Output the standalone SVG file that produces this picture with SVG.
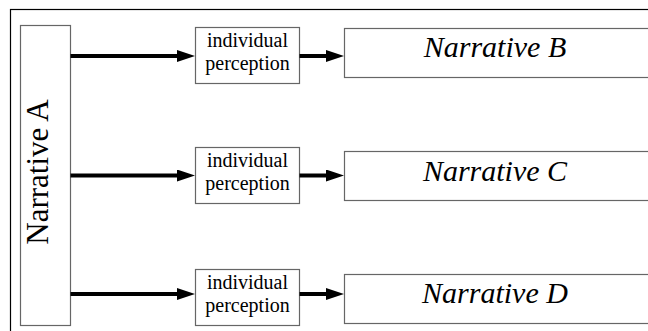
<svg xmlns="http://www.w3.org/2000/svg" width="648" height="331" viewBox="0 0 648 331">
  <style>
    .frame { fill: none; stroke: #000; stroke-width: 1.2; }
    .box { fill: #fff; stroke: #666; stroke-width: 1.2; }
    .small { font-family: "Liberation Serif", "Times New Roman", serif; font-size: 20px; fill: #000; text-anchor: middle; }
    .big { font-family: "Liberation Serif", "Times New Roman", serif; font-size: 30px; font-style: italic; fill: #000; text-anchor: middle; }
    .side { font-family: "Liberation Serif", "Times New Roman", serif; font-size: 31px; fill: #000; text-anchor: middle; }
    .arrow { stroke: #000; stroke-width: 4; fill: none; marker-end: url(#head); }
  </style>
  <defs>
    <marker id="head" viewBox="0 0 18 12" refX="1" refY="6" markerWidth="18" markerHeight="12" markerUnits="userSpaceOnUse" orient="auto">
      <path d="M0,0 L18,6 L0,12 Z" fill="#000"/>
    </marker>
  </defs>

  <rect class="frame" x="10.5" y="9.5" width="700" height="400"/>

  <g id="narrative-a">
    <rect class="box" x="20.5" y="25.5" width="50" height="300"/>
    <text class="side" transform="translate(48 172) rotate(-90)">Narrative A</text>
  </g>

  <g id="perception-1">
    <rect class="box" x="195.5" y="27.5" width="104" height="56"/>
    <text class="small" x="247.5" y="47">individual</text>
    <text class="small" x="247.5" y="69.5">perception</text>
  </g>
  <g id="perception-2">
    <rect class="box" x="195.5" y="147.5" width="104" height="56"/>
    <text class="small" x="247.5" y="167">individual</text>
    <text class="small" x="247.5" y="189.5">perception</text>
  </g>
  <g id="perception-3">
    <rect class="box" x="195.5" y="269.5" width="104" height="56"/>
    <text class="small" x="247.5" y="289">individual</text>
    <text class="small" x="247.5" y="311.5">perception</text>
  </g>

  <g id="narrative-b">
    <rect class="box" x="344.5" y="28.5" width="320" height="49"/>
    <text class="big" x="495" y="57">Narrative B</text>
  </g>
  <g id="narrative-c">
    <rect class="box" x="344.5" y="151.5" width="320" height="49"/>
    <text class="big" x="495" y="180.5">Narrative C</text>
  </g>
  <g id="narrative-d">
    <rect class="box" x="344.5" y="274.5" width="320" height="49"/>
    <text class="big" x="495" y="303">Narrative D</text>
  </g>

  <g id="connectors">
    <line class="arrow" x1="70.5" y1="56" x2="178" y2="56"/>
    <line class="arrow" x1="299.5" y1="56" x2="327" y2="56"/>
    <line class="arrow" x1="70.5" y1="175.5" x2="178" y2="175.5"/>
    <line class="arrow" x1="299.5" y1="175.5" x2="327" y2="175.5"/>
    <line class="arrow" x1="70.5" y1="294" x2="178" y2="294"/>
    <line class="arrow" x1="299.5" y1="294" x2="327" y2="294"/>
  </g>
</svg>
